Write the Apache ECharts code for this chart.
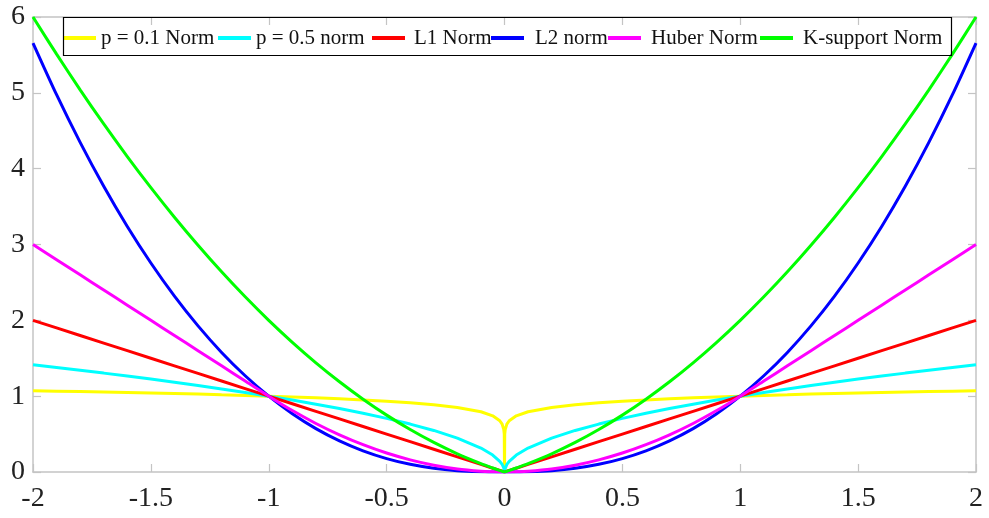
<!DOCTYPE html>
<html>
<head>
<meta charset="utf-8">
<script src="https://cdn.jsdelivr.net/npm/echarts@6/dist/echarts.min.js"></script>
<style>html,body{margin:0;padding:0;background:#fff}#c{width:989px;height:518px}</style>
</head>
<body>
<div id="c"></div>
<script>
// x sample positions
const xs = [-2,-1.9,-1.8,-1.7,-1.6,-1.5,-1.4,-1.3,-1.2,-1.1,-1,-0.9,-0.8,-0.7,-0.6,-0.5,-0.4,-0.3,-0.2,-0.1,-0.05,-0.02,-0.01,-0.003,-0.001,
  0,
  0.001,0.003,0.01,0.02,0.05,0.1,0.2,0.3,0.4,0.5,0.6,0.7,0.8,0.9,1,1.1,1.2,1.3,1.4,1.5,1.6,1.7,1.8,1.9,2];

const seriesNames = ['p = 0.1 Norm','p = 0.5 norm','L1 Norm','L2 norm','Huber Norm','K-support Norm'];

const p01 = [1.072,1.066,1.060,1.054,1.048,1.041,1.034,1.027,1.018,1.010,1.000,0.990,0.978,0.965,0.950,0.933,0.912,0.886,0.851,0.794,0.741,0.676,0.631,0.559,0.501,
  0,
  0.501,0.559,0.631,0.676,0.741,0.794,0.851,0.886,0.912,0.933,0.950,0.965,0.978,0.990,1.000,1.010,1.018,1.027,1.034,1.041,1.048,1.054,1.060,1.066,1.072];

const p05 = [1.414,1.378,1.342,1.304,1.265,1.225,1.183,1.140,1.095,1.049,1.000,0.949,0.894,0.837,0.775,0.707,0.632,0.548,0.447,0.316,0.224,0.141,0.100,0.055,0.032,
  0,
  0.032,0.055,0.100,0.141,0.224,0.316,0.447,0.548,0.632,0.707,0.775,0.837,0.894,0.949,1.000,1.049,1.095,1.140,1.183,1.225,1.265,1.304,1.342,1.378,1.414];

const l1 = [2,1.9,1.8,1.7,1.6,1.5,1.4,1.3,1.2,1.1,1,0.9,0.8,0.7,0.6,0.5,0.4,0.3,0.2,0.1,0.05,0.02,0.01,0.003,0.001,
  0,
  0.001,0.003,0.01,0.02,0.05,0.1,0.2,0.3,0.4,0.5,0.6,0.7,0.8,0.9,1,1.1,1.2,1.3,1.4,1.5,1.6,1.7,1.8,1.9,2];

const l2 = [5.657,4.976,4.347,3.768,3.238,2.756,2.319,1.927,1.577,1.269,1.000,0.768,0.572,0.410,0.279,0.177,0.101,0.049,0.018,0.003,0.001,0,0,0,0,
  0,
  0,0,0,0,0.001,0.003,0.018,0.049,0.101,0.177,0.279,0.410,0.572,0.768,1.000,1.269,1.577,1.927,2.319,2.756,3.238,3.768,4.347,4.976,5.657];

const huber = [3,2.8,2.6,2.4,2.2,2.0,1.8,1.6,1.4,1.2,1,0.81,0.64,0.49,0.36,0.25,0.16,0.09,0.04,0.01,0.0025,0.0004,0.0001,0,0,
  0,
  0,0,0.0001,0.0004,0.0025,0.01,0.04,0.09,0.16,0.25,0.36,0.49,0.64,0.81,1,1.2,1.4,1.6,1.8,2.0,2.2,2.4,2.6,2.8,3];

const ksup = [6,5.51,5.04,4.59,4.16,3.75,3.36,2.99,2.64,2.31,2,1.71,1.44,1.19,0.96,0.75,0.56,0.39,0.24,0.11,0.0525,0.0204,0.0101,0.003,0.001,
  0,
  0.001,0.003,0.0101,0.0204,0.0525,0.11,0.24,0.39,0.56,0.75,0.96,1.19,1.44,1.71,2,2.31,2.64,2.99,3.36,3.75,4.16,4.59,5.04,5.51,6];

const xTicks = [-2,-1.5,-1,-0.5,0,0.5,1,1.5,2];
const yTicks = [0,1,2,3,4,5,6];

const colors = ['#ffff00','#00ffff','#ff0000','#0000ff','#ff00ff','#00ff00'];
const ys = [p01,p05,l1,l2,huber,ksup];
const smoothing = [false,false,false,0.25,0.25,0.25];

const FONT = '"Liberation Serif","Times New Roman",serif';
const AX = '#c4c4c4';

const chart = echarts.init(document.getElementById('c'), null, {renderer:'canvas'});

const series = seriesNames.map((n,i)=>({
  name:n, type:'line', xAxisIndex:0, yAxisIndex:0,
  data: xs.map((x,j)=>[x, ys[i][j]]),
  showSymbol:false, symbol:'none', smooth:smoothing[i],
  lineStyle:{color:colors[i], width:3},
  itemStyle:{color:colors[i]},
  animation:false, z:2+i
}));

// legend placement (icon left, extra text gap)
const legPos = [[63,0],[218,0],[372,4],[491,6],[608,5],[760,5]];
const legends = seriesNames.map((n,i)=>({
  data:[n], left:legPos[i][0], top:27, padding:0,
  orient:'horizontal', icon:'rect', itemWidth:33, itemHeight:4,
  selectedMode:false,
  textStyle:{fontFamily:FONT, fontSize:21, color:'#111', lineHeight:22, padding:[0,0,0,legPos[i][1]]}
}));

const axisCommon = {
  axisLine:{show:true, onZero:false, lineStyle:{color:AX, width:1.5}},
  axisTick:{show:true, inside:true, length:8, lineStyle:{color:AX, width:1.2}},
  splitLine:{show:false}
};

chart.setOption({
  animation:false,
  backgroundColor:'#fff',
  grid:{left:33, right:13, top:17, bottom:46, containLabel:false},
  legend: legends,
  graphic:[{type:'rect', z:100, shape:{x:63.5, y:17.5, width:888, height:38}, style:{fill:'none', stroke:'#000', lineWidth:1.2}}],
  xAxis:[Object.assign({
    type:'value', min:xTicks[0], max:xTicks[xTicks.length-1], interval:0.5, position:'bottom',
    axisLabel:{fontFamily:FONT, fontSize:28, color:'#222', margin:13, formatter:v=>String(v)}
  }, axisCommon), Object.assign({
    type:'value', min:xTicks[0], max:xTicks[xTicks.length-1], interval:0.5, position:'top',
    axisLabel:{show:false}
  }, axisCommon)],
  yAxis:[Object.assign({
    type:'value', min:yTicks[0], max:yTicks[yTicks.length-1], interval:1, position:'left',
    axisLabel:{fontFamily:FONT, fontSize:28, color:'#222', margin:8}
  }, axisCommon), Object.assign({
    type:'value', min:yTicks[0], max:yTicks[yTicks.length-1], interval:1, position:'right',
    axisLabel:{show:false}
  }, axisCommon)],
  series: series
});
</script>
</body>
</html>
